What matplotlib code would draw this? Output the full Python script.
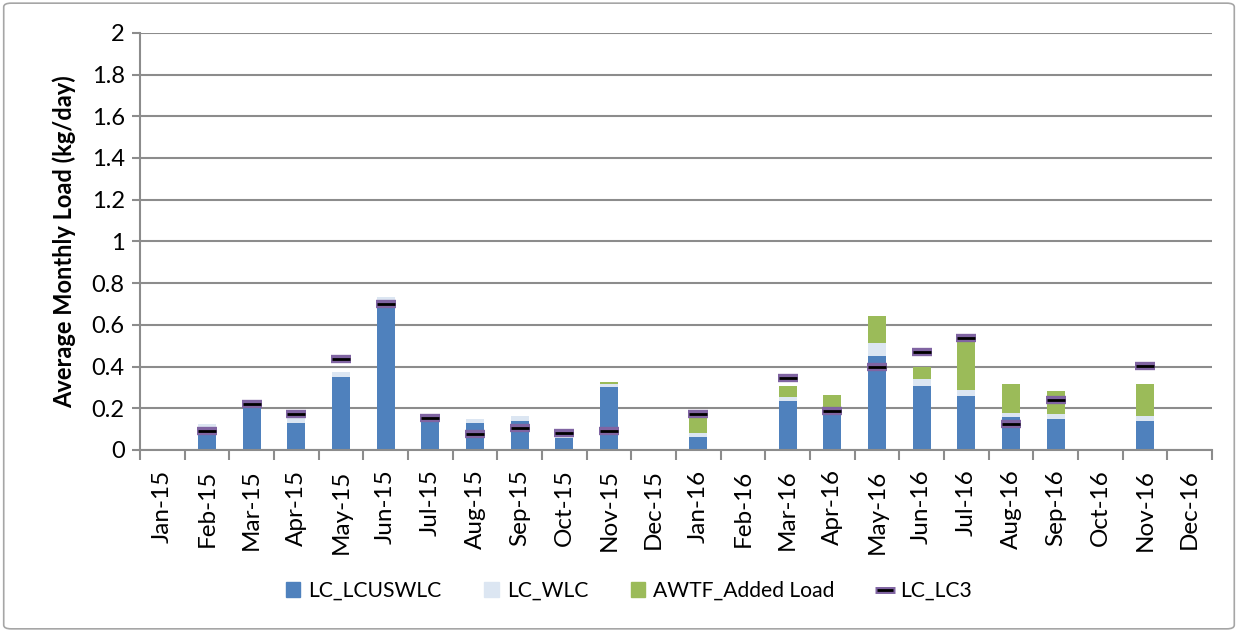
import matplotlib
matplotlib.use('Agg')
from matplotlib import pyplot as plt
from matplotlib.patches import FancyBboxPatch, Patch
from matplotlib.lines import Line2D
import numpy as np

months = ['Jan-15', 'Feb-15', 'Mar-15', 'Apr-15', 'May-15', 'Jun-15',
          'Jul-15', 'Aug-15', 'Sep-15', 'Oct-15', 'Nov-15', 'Dec-15',
          'Jan-16', 'Feb-16', 'Mar-16', 'Apr-16', 'May-16', 'Jun-16',
          'Jul-16', 'Aug-16', 'Sep-16', 'Oct-16', 'Nov-16', 'Dec-16']

# stacked loads (kg/day), nan = no sample that month
lcuswlc = [np.nan, 0.080, 0.210, 0.128, 0.352, 0.687, 0.136, 0.128, 0.139, 0.059, 0.304, np.nan,
           0.064, np.nan, 0.234, 0.166, 0.451, 0.307, 0.261, 0.160, 0.147, np.nan, 0.141, np.nan]
wlc = [np.nan, 0.043, 0.020, 0.024, 0.024, 0.045, 0.005, 0.021, 0.024, 0.008, 0.013, np.nan,
       0.016, np.nan, 0.019, 0.007, 0.061, 0.032, 0.025, 0.016, 0.027, np.nan, 0.022, np.nan]
awtf_added = [np.nan, 0, 0, 0, 0, 0, 0, 0, 0, 0, 0.009, np.nan,
              0.080, np.nan, 0.053, 0.091, 0.132, 0.059, 0.246, 0.141, 0.109, np.nan, 0.152, np.nan]
lc_lc3 = [np.nan, 0.091, 0.219, 0.173, 0.436, 0.702, 0.153, 0.078, 0.105, 0.083, 0.093, np.nan,
          0.173, np.nan, 0.347, 0.187, 0.398, 0.472, 0.539, 0.123, 0.241, np.nan, 0.401, np.nan]

blue = '#4F81BD'
light = '#DCE6F2'
green = '#9BBB59'
purple = '#8064A2'
grid = '#8C8C8C'

plt.rcParams['font.family'] = ['Lato', 'DejaVu Sans']

fig = plt.figure(figsize=(12.38, 6.32), dpi=100)
ax = fig.add_axes([0.1131, 0.288, 0.8659, 0.660])

x = np.arange(len(months))
a = np.nan_to_num(lcuswlc)
b = np.nan_to_num(wlc)
c = np.nan_to_num(awtf_added)
w = 0.4
ax.bar(x, a, w, color=blue, zorder=2)
ax.bar(x, b, w, bottom=a, color=light, zorder=2)
ax.bar(x, c, w, bottom=a + b, color=green, zorder=2)

# LC_LC3 shown as dash markers: purple outline with black core
ax.plot(x, lc_lc3, ls='none', marker='_', ms=15, mew=6, color=purple, zorder=3)
ax.plot(x, lc_lc3, ls='none', marker='_', ms=13, mew=2, color='black', zorder=4)

ax.set_xlim(-0.5, len(months) - 0.5)
ax.set_ylim(0, 2)
yt = np.arange(0, 2.01, 0.2)
ax.set_yticks(yt)
ax.set_yticklabels(['%g' % round(v, 1) for v in yt], fontsize=17)
ax.yaxis.grid(True, color=grid, lw=1.5, zorder=0)
ax.set_axisbelow(True)

ax.set_xticks(x)
ax.set_xticklabels(months, rotation=90, fontsize=17.5)
ax.set_xticks(np.arange(-0.5, len(months)), minor=True)
ax.tick_params(axis='x', which='major', length=0, pad=14)
ax.tick_params(axis='x', which='minor', length=7, color=grid, width=1.5)
ax.tick_params(axis='y', length=6, color=grid, width=1.5, pad=5)

for s in ['top', 'right']:
    ax.spines[s].set_visible(False)
for s in ['left', 'bottom']:
    ax.spines[s].set_color(grid)
    ax.spines[s].set_linewidth(1.5)

ax.set_ylabel('Average Monthly Load (kg/day)', fontsize=17, fontweight='bold', labelpad=11)

lc3_handle = (Line2D([], [], ls='none', marker='_', ms=14, mew=5, color=purple),
              Line2D([], [], ls='none', marker='_', ms=12, mew=2, color='black'))
handles = [Patch(color=blue), Patch(color=light), Patch(color=green), lc3_handle]
labels = ['LC_LCUSWLC', 'LC_WLC', 'AWTF_Added Load', 'LC_LC3']
leg = fig.legend(handles, labels, ncol=4, loc='center', bbox_to_anchor=(0.508, 0.065),
                 frameon=False, fontsize=15.2, handlelength=0.67, handleheight=0.67,
                 handletextpad=0.38, columnspacing=2.05)

border = FancyBboxPatch((0.003, 0.005), 0.994, 0.99, boxstyle='round,pad=0,rounding_size=0.006',
                        transform=fig.transFigure, fill=False, edgecolor='#A6A6A6', lw=1.2)
fig.patches.append(border)

fig.savefig('out.png', dpi=100)
